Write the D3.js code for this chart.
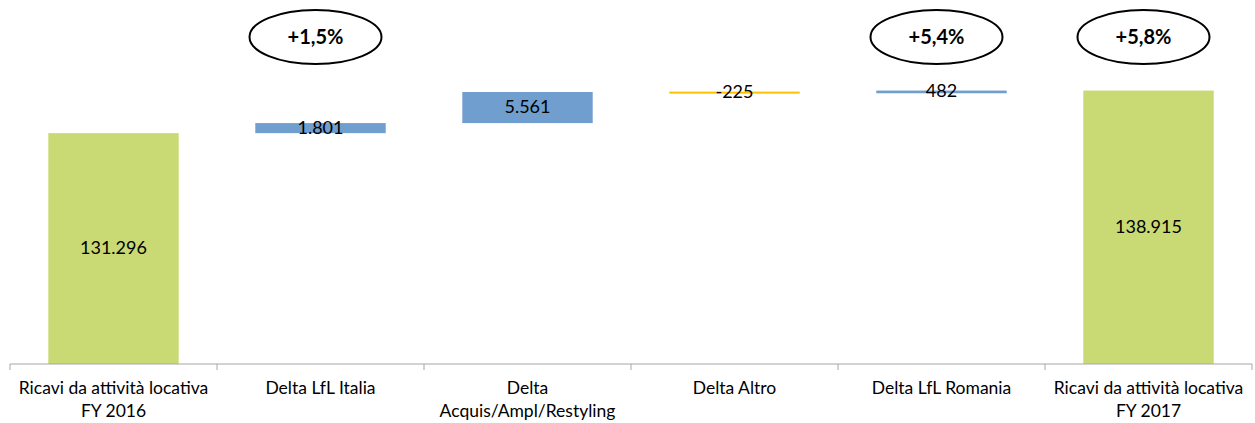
<!DOCTYPE html>
<html>
<head>
<meta charset="utf-8">
<script src="https://cdn.jsdelivr.net/npm/d3@7"></script>
<style>
  body { margin: 0; background: #fff; }
  text { font-family: Lato, "Open Sans", sans-serif; }
</style>
</head>
<body>
<div id="chart"></div>
<script>
// Waterfall data
const categories = [
  ["Ricavi da attività locativa", "FY 2016"],
  ["Delta LfL Italia"],
  ["Delta", "Acquis/Ampl/Restyling"],
  ["Delta Altro"],
  ["Delta LfL Romania"],
  ["Ricavi da attività locativa", "FY 2017"]
];
const values = [131296, 1801, 5561, -225, 482, 138915];
const kinds = ["total", "delta", "delta", "delta", "delta", "total"];
const valueLabels = ["131.296", "1.801", "5.561", "-225", "482", "138.915"];
const bubbles = [null, "+1,5%", null, null, "+5,4%", "+5,8%"];

const width = 1255, height = 423;
const margin = { top: 84, right: 3, bottom: 59, left: 10 };

const svg = d3.select("#chart")
    .append("svg")
    .attr("width", width)
    .attr("height", height);

// running totals for the floating bars
let running = 0;
const bars = values.map((v, i) => {
  let y0, y1;
  if (kinds[i] === "total") {
    y0 = 90000; y1 = v; running = v;
  } else {
    y0 = running; y1 = running + v; running = y1;
  }
  return { i, v, y0, y1, kind: kinds[i] };
});

const x = d3.scaleBand()
    .domain(d3.range(categories.length))
    .range([margin.left, width - margin.right])
    .paddingInner(0.37)
    .paddingOuter(0.185);

const xEdges = d3.scaleLinear()
    .domain([0, categories.length])
    .range([margin.left, width - margin.right]);

const y = d3.scaleLinear()
    .domain([90000, 140000])
    .range([height - margin.bottom, height - margin.bottom - 50000 * 0.00559]);

const color = d => d.kind === "total" ? "#C9D974" : (d.v < 0 ? "#FFC000" : "#6F9ECF");

// bars
svg.selectAll(".bar")
    .data(bars)
    .enter().append("rect")
    .attr("class", "bar")
    .attr("x", d => x(d.i))
    .attr("width", x.bandwidth())
    .attr("y", d => {
      const top = y(Math.max(d.y0, d.y1)), h = Math.abs(y(d.y0) - y(d.y1));
      return h < 2 ? top - (2 - h) / 2 : top;
    })
    .attr("height", d => Math.max(2, Math.abs(y(d.y0) - y(d.y1))))
    .attr("fill", color);

// value labels
svg.selectAll(".val")
    .data(bars)
    .enter().append("text")
    .attr("class", "val")
    .attr("x", d => x(d.i) + x.bandwidth() / 2)
    .attr("y", d => (y(d.y0) + y(d.y1)) / 2 + 1)
    .attr("text-anchor", "middle")
    .attr("dominant-baseline", "middle")
    .style("font-size", "18px")
    .attr("fill", "#000")
    .text(d => valueLabels[d.i]);

// x axis
const axisY = height - margin.bottom;
svg.append("line")
    .attr("x1", margin.left).attr("x2", width - margin.right)
    .attr("y1", axisY).attr("y2", axisY)
    .attr("stroke", "#A6A6A6");

svg.selectAll(".tick")
    .data(d3.range(categories.length + 1))
    .enter().append("line")
    .attr("x1", d => xEdges(d)).attr("x2", d => xEdges(d))
    .attr("y1", axisY).attr("y2", axisY + 6)
    .attr("stroke", "#A6A6A6");

const catText = svg.selectAll(".cat")
    .data(categories)
    .enter().append("text")
    .attr("class", "cat")
    .attr("text-anchor", "middle")
    .style("font-size", "17.5px")
    .attr("fill", "#000");

catText.selectAll("tspan")
    .data((d, i) => d.map(t => ({ t, i })))
    .enter().append("tspan")
    .attr("x", d => x(d.i) + x.bandwidth() / 2)
    .attr("y", (d, j) => axisY + 30 + j * 23)
    .text(d => d.t);

// growth bubbles
const bub = bars.filter(d => bubbles[d.i]);
svg.selectAll(".bubble")
    .data(bub)
    .enter().append("ellipse")
    .attr("cx", d => x(d.i) + x.bandwidth() / 2 - 5)
    .attr("cy", 37)
    .attr("rx", 66)
    .attr("ry", 27)
    .attr("fill", "#fff")
    .attr("stroke", "#000")
    .attr("stroke-width", 2);

svg.selectAll(".bubtext")
    .data(bub)
    .enter().append("text")
    .attr("x", d => x(d.i) + x.bandwidth() / 2 - 5)
    .attr("y", 44)
    .attr("text-anchor", "middle")
    .style("font-size", "20px")
    .style("font-weight", "bold")
    .text(d => bubbles[d.i]);
</script>
</body>
</html>
